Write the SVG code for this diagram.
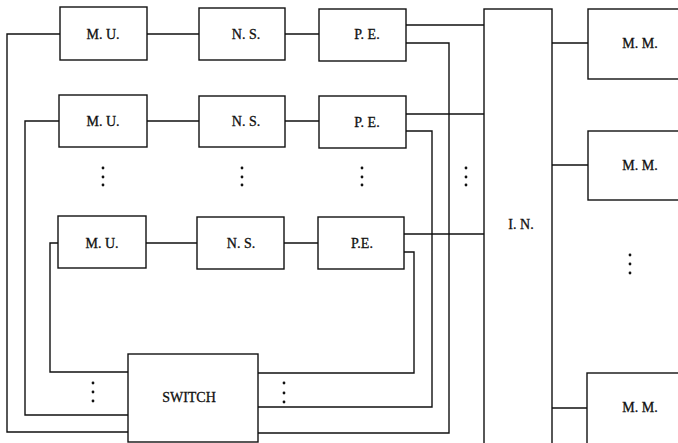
<svg xmlns="http://www.w3.org/2000/svg" width="678" height="443" viewBox="0 0 678 443">
<style>
.box{fill:#fff;stroke:#111;stroke-width:1.4}
.ln{fill:none;stroke:#111;stroke-width:1.4}
.t{font-family:"Liberation Serif","Times New Roman",serif;font-size:14px;fill:#111;stroke:#111;stroke-width:0.3;text-anchor:middle}
.d{fill:#111}
</style>
<rect width="678" height="443" fill="#fff"/>
<g id="connectors">
<path class="ln" d="M147,34H199M285,34H319M147,121H199M285,121H319M146,243H197M284,243H318"/>
<path class="ln" d="M406,25H484M406,114H484M404,234H484"/>
<path class="ln" d="M552,43H588M552,165H588M552,408H587"/>
<path class="ln" d="M60,34H7V432H128M59,121H25V415H128M58,243H50V372H128"/>
<path class="ln" d="M406,43H449V433H258M406,131H432V407H258M404,252H414V373H258"/>
</g>
<g id="dots">
<circle class="d" cx="103" cy="168" r="1.4"/><circle class="d" cx="103" cy="177" r="1.4"/><circle class="d" cx="103" cy="185" r="1.4"/>
<circle class="d" cx="242" cy="168" r="1.4"/><circle class="d" cx="242" cy="177" r="1.4"/><circle class="d" cx="242" cy="185" r="1.4"/>
<circle class="d" cx="362" cy="168" r="1.4"/><circle class="d" cx="362" cy="177" r="1.4"/><circle class="d" cx="362" cy="185" r="1.4"/>
<circle class="d" cx="466" cy="168" r="1.4"/><circle class="d" cx="466" cy="177" r="1.4"/><circle class="d" cx="466" cy="185" r="1.4"/>
<circle class="d" cx="630" cy="255" r="1.4"/><circle class="d" cx="630" cy="264" r="1.4"/><circle class="d" cx="630" cy="273" r="1.4"/>
<circle class="d" cx="93" cy="383" r="1.4"/><circle class="d" cx="93" cy="392" r="1.4"/><circle class="d" cx="93" cy="401" r="1.4"/>
<circle class="d" cx="284" cy="383" r="1.4"/><circle class="d" cx="284" cy="393" r="1.4"/><circle class="d" cx="284" cy="402" r="1.4"/>
</g>
<g id="mu1"><rect class="box" x="60" y="7" width="87" height="53"/><text class="t" x="103" y="39">M. U.</text></g>
<g id="ns1"><rect class="box" x="199" y="8" width="86" height="52"/><text class="t" x="246" y="39">N. S.</text></g>
<g id="pe1"><rect class="box" x="319" y="9" width="87" height="52"/><text class="t" x="367" y="39">P. E.</text></g>
<g id="mu2"><rect class="box" x="59" y="95" width="88" height="52"/><text class="t" x="103" y="126">M. U.</text></g>
<g id="ns2"><rect class="box" x="199" y="96" width="86" height="51"/><text class="t" x="246" y="126">N. S.</text></g>
<g id="pe2"><rect class="box" x="319" y="96" width="87" height="52"/><text class="t" x="367" y="127">P. E.</text></g>
<g id="mu3"><rect class="box" x="58" y="216" width="88" height="52"/><text class="t" x="102" y="248">M. U.</text></g>
<g id="ns3"><rect class="box" x="197" y="217" width="87" height="52"/><text class="t" x="241" y="248">N. S.</text></g>
<g id="pe3"><rect class="box" x="318" y="217" width="86" height="52"/><text class="t" x="362" y="248">P.E.</text></g>
<g id="switch"><rect class="box" x="128" y="354" width="130" height="88"/><text class="t" x="189" y="402">SWITCH</text></g>
<g id="in"><rect class="box" x="484" y="9" width="68" height="440"/><text class="t" x="521" y="229">I. N.</text></g>
<g id="mm1"><rect class="box" x="588" y="9" width="100" height="70"/><text class="t" x="640" y="48">M. M.</text></g>
<g id="mm2"><rect class="box" x="588" y="131" width="100" height="69"/><text class="t" x="640" y="170">M. M.</text></g>
<g id="mm3"><rect class="box" x="587" y="373" width="100" height="80"/><text class="t" x="640" y="412">M. M.</text></g>
</svg>
